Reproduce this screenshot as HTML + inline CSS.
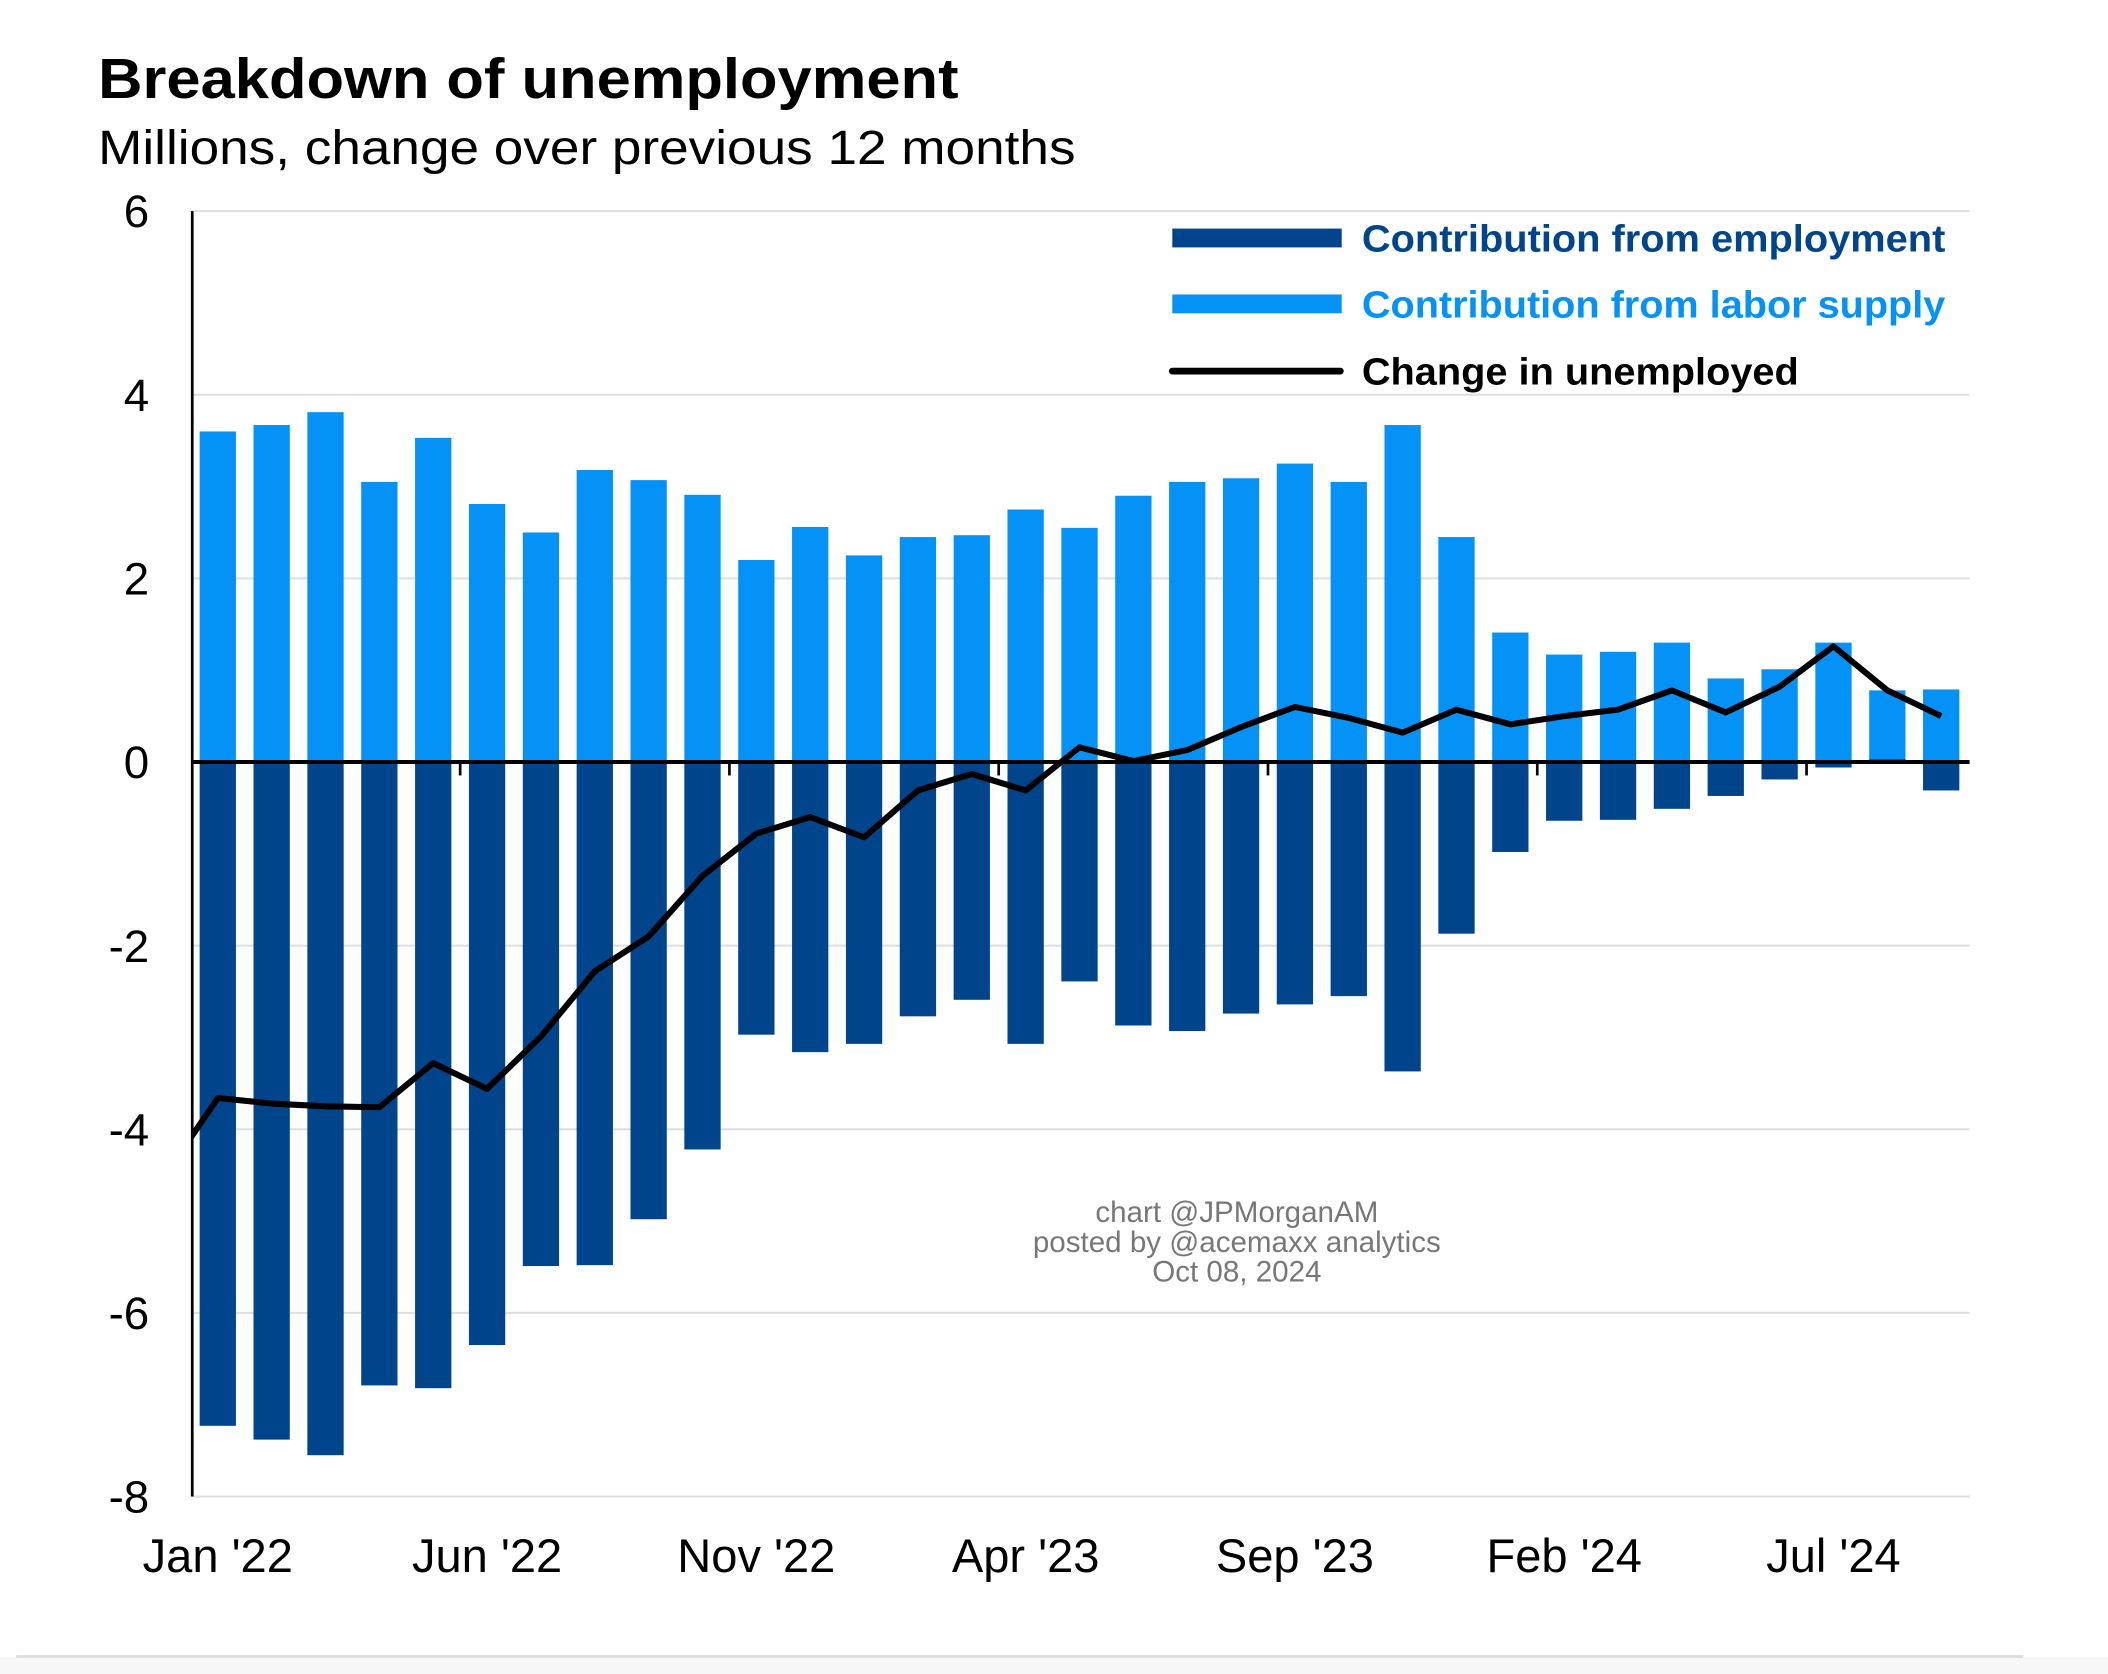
<!DOCTYPE html>
<html><head><meta charset="utf-8"><style>
html,body{margin:0;padding:0;background:#fff;}
svg{display:block;}
text{font-family:"Liberation Sans",Arial,sans-serif;}
</style></head><body>
<svg id="chart" width="2108" height="1674" viewBox="0 0 1568 1245" preserveAspectRatio="none" xmlns="http://www.w3.org/2000/svg">
<rect x="0" y="1232" width="1568" height="13" fill="#f7f7f7"/>
<line x1="12" y1="1232" x2="1505" y2="1232" stroke="#dcdcdc" stroke-width="2"/>
<text x="73" y="73" font-size="42" font-weight="bold" textLength="640" lengthAdjust="spacingAndGlyphs" fill="#000">Breakdown of unemployment</text>
<text x="73" y="122" font-size="36" textLength="727" lengthAdjust="spacingAndGlyphs" fill="#000">Millions, change over previous 12 months</text>
<g id="grid"></g>
<g id="yt"></g>
<g id="bars"></g>
<g id="axes"></g>
<g id="xt"></g>
<clipPath id="plotclip"><rect x="143" y="140" width="1330" height="990"/></clipPath>
<path id="line" clip-path="url(#plotclip)" fill="none" stroke="#000" stroke-width="4.5" stroke-linejoin="round"/>
<g>
<rect x="872" y="170" width="126" height="14" fill="#00448b"/>
<text x="1013" y="187" font-size="28" font-weight="bold" fill="#00448b" textLength="434" lengthAdjust="spacingAndGlyphs">Contribution from employment</text>
<rect x="872" y="219" width="126" height="14" fill="#0592f7"/>
<text x="1013" y="236" font-size="28" font-weight="bold" fill="#0592f7" textLength="434" lengthAdjust="spacingAndGlyphs">Contribution from labor supply</text>
<line x1="872" y1="276" x2="997" y2="276" stroke="#000" stroke-width="5" stroke-linecap="round"/>
<text x="1013" y="286" font-size="28" font-weight="bold" fill="#000" textLength="325" lengthAdjust="spacingAndGlyphs">Change in unemployed</text>
</g>
<g fill="#777" font-size="22" text-anchor="middle">
<text x="920" y="909">chart @JPMorganAM</text>
<text x="920" y="931">posted by @acemaxx analytics</text>
<text x="920" y="953">Oct 08, 2024</text>
</g>
</svg>
<script>
const months = ["Jan '22","Feb '22","Mar '22","Apr '22","May '22","Jun '22","Jul '22","Aug '22","Sep '22","Oct '22","Nov '22","Dec '22","Jan '23","Feb '23","Mar '23","Apr '23","May '23","Jun '23","Jul '23","Aug '23","Sep '23","Oct '23","Nov '23","Dec '23","Jan '24","Feb '24","Mar '24","Apr '24","May '24","Jun '24","Jul '24","Aug '24","Sep '24"];
const laborSupply = [3.60,3.67,3.81,3.05,3.53,2.81,2.50,3.18,3.07,2.91,2.20,2.56,2.25,2.45,2.47,2.75,2.55,2.90,3.05,3.09,3.25,3.05,3.67,2.45,1.41,1.17,1.20,1.30,0.91,1.01,1.30,0.78,0.79];
const employment = [-7.23,-7.38,-7.55,-6.79,-6.82,-6.35,-5.49,-5.48,-4.98,-4.22,-2.97,-3.16,-3.07,-2.77,-2.59,-3.07,-2.39,-2.87,-2.93,-2.74,-2.64,-2.55,-3.37,-1.87,-0.98,-0.64,-0.63,-0.51,-0.37,-0.19,-0.06,0.03,-0.31];
const unemployedPrev = -4.52; // Dec '21
const unemployed = [-3.66,-3.72,-3.75,-3.76,-3.28,-3.56,-2.99,-2.28,-1.90,-1.24,-0.78,-0.60,-0.82,-0.31,-0.13,-0.31,0.16,0.01,0.13,0.38,0.60,0.48,0.32,0.57,0.41,0.50,0.57,0.78,0.54,0.82,1.26,0.78,0.50];
const yTicks = [6,4,2,0,-2,-4,-6,-8];
const xLabelIdx = [0,5,10,15,20,25,30];

const NS = "http://www.w3.org/2000/svg";
const X0 = 143, X1 = 1465, Y6 = 157, Ym8 = 1113;
const step = 40.06, first = 162, bw = 27;
const x = i => first + i * step;
const y = v => Y6 + (6 - v) * (Ym8 - Y6) / 14;
function mk(tag, attrs, parent) {
  const e = document.createElementNS(NS, tag);
  for (const k in attrs) e.setAttribute(k, attrs[k]);
  parent.appendChild(e);
  return e;
}
const grid = document.getElementById('grid'), yt = document.getElementById('yt');
yTicks.forEach(t => {
  const l = mk('line', {x1: X0, x2: X1, y1: y(t), y2: y(t), stroke: '#dedede', 'stroke-width': 1.5}, grid);
  
  
  const tx = mk('text', {x: 111, y: y(t) + 12, 'font-size': 34, 'text-anchor': 'end', fill: '#000'}, yt);
  tx.textContent = t;
  
  
});
const bars = document.getElementById('bars');
months.forEach((m, i) => {
  const a = laborSupply[i];
  const r1 = mk('rect', {x: x(i) - bw/2, y: Math.min(y(a), y(0)), width: bw, height: Math.abs(y(0) - y(a)), fill: '#0592f7'}, bars);
  
  
  const b = employment[i];
  const r2 = mk('rect', {x: x(i) - bw/2, y: Math.min(y(b), y(0)), width: bw, height: Math.abs(y(0) - y(b)), fill: '#00448b'}, bars);
  
  
});
const axes = document.getElementById('axes');
const ya = mk('line', {x1: X0, x2: X0, y1: y(6), y2: y(-8), stroke: '#000', 'stroke-width': 2}, axes);


const za = mk('line', {x1: X0, x2: X1, y1: y(0), y2: y(0), stroke: '#000', 'stroke-width': 3}, axes);


const xt = document.getElementById('xt');
xLabelIdx.forEach(i => {
  if (i > 0) {
    const tk = mk('line', {x1: x(i) - step/2, x2: x(i) - step/2, y1: y(0), y2: y(0) + 10, stroke: '#000', 'stroke-width': 2}, axes);
    
    
  }
  const t = mk('text', {x: x(i), y: 1169, 'font-size': 35, 'text-anchor': 'middle', fill: '#000'}, xt);
  t.textContent = months[i];
  
  
});
let d = 'M' + x(-1) + ',' + y(unemployedPrev);
unemployed.forEach((v, i) => { d += ' L' + x(i) + ',' + y(v); });
document.getElementById('line').setAttribute('d', d);
</script>
</body></html>
